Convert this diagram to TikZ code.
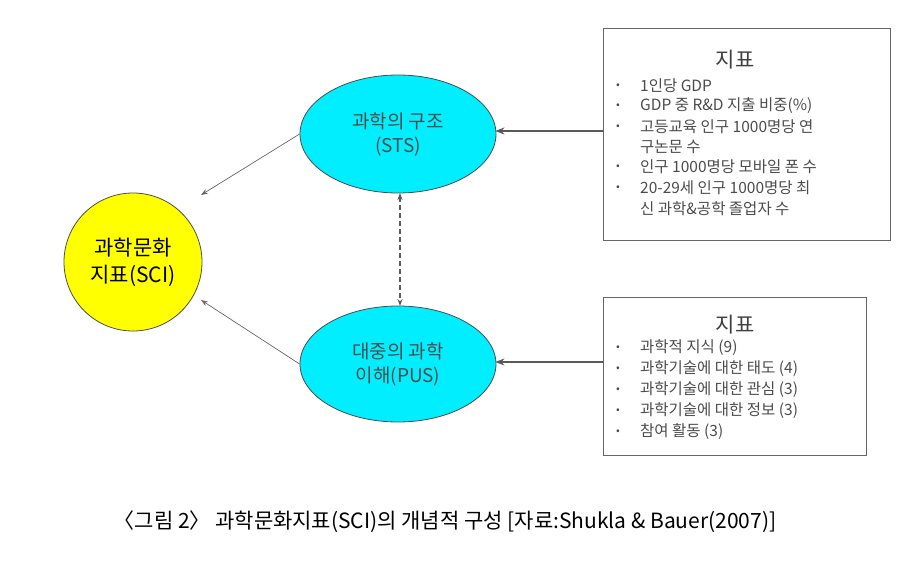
\documentclass[tikz,border=0pt]{standalone}
\usepackage{fontspec}
\setmainfont{Noto Sans CJK KR}
\usetikzlibrary{arrows.meta,shapes.geometric}
\definecolor{cy}{RGB}{0,238,255}
\definecolor{ye}{RGB}{255,255,0}
\begin{document}
\begin{tikzpicture}[x=1pt,y=-1pt,
  ell/.style={draw=black!70,line width=0.8pt,fill=cy,ellipse,minimum width=196pt,minimum height=118pt,align=center,text=black!70,font=\fontsize{19}{24}\selectfont},
  box/.style={draw=black!60,line width=0.6pt,fill=white},
  itm/.style={anchor=west,text=black!70,font=\fontsize{15.5}{18}\selectfont,inner sep=0},
  bul/.style={anchor=center,text=black!70,font=\fontsize{11}{12}\selectfont,inner sep=0},
  ttl/.style={text=black!75,font=\fontsize{21}{24}\selectfont},
  thin/.style={-{Stealth[length=7pt,width=5pt]},black!60,line width=0.7pt},
  thick/.style={-{Stealth[length=9pt,width=7pt]},black!65,line width=2.6pt}]
\useasboundingbox (0,0) rectangle (900,586);
\node[draw=black!70,line width=0.8pt,fill=ye,circle,minimum size=138pt,align=center,font=\fontsize{21}{27}\selectfont] (sci) at (133,262) {과학문화\\지표(SCI)};
\node[ell] (sts) at (398,134) {과학의 구조\\(STS)};
\node[ell,minimum height=116pt] (pus) at (398,364) {대중의 과학\\이해(PUS)};
\draw[box] (603,28) rectangle (890,240);
\coordinate (b1) at (603,131);
\node[ttl] (t1) at (735,60) {지표};
\foreach \y/\t in {86/1인당 GDP,106/GDP 중 R\&D 지출 비중(\%),127/고등교육 인구 1000명당 연,167/인구 1000명당 모바일 폰 수,188/20-29세 인구 1000명당 최}{
  \node[bul] at (618,\y) {•}; \node[itm] at (640,\y) {\t};}
\node[itm] (c1) at (640,147) {구논문 수};
\node[itm] (c2) at (640,209) {신 과학\&공학 졸업자 수};
\draw[box] (603,297) rectangle (866,455);
\coordinate (b2) at (603,362);
\node[ttl] (t2) at (735,325) {지표};
\foreach \y/\t in {348/과학적 지식 (9),369/과학기술에 대한 태도 (4),390/과학기술에 대한 관심 (3),411/과학기술에 대한 정보 (3),432/참여 활동 (3)}{
  \node[bul] at (618,\y) {•}; \node[itm] at (640,\y) {\t};}
\draw[thick,shorten >=-1pt] (b1) -- (sts.east |- b1);
\draw[thick,shorten >=-1pt] (b2) -- (pus.east |- b2);
\draw[thin] (sts.west) -- (201,195);
\draw[thin] (pus.west) -- (201,300);
\draw[{Stealth[length=7pt,width=5pt]}-{Stealth[length=7pt,width=5pt]},black!65,line width=1.2pt,dash pattern=on 5pt off 3pt] (400,193) -- (400,306);
\node[font=\fontsize{21}{24}\selectfont] (cap) at (445,522) {〈그림 2〉 과학문화지표(SCI)의 개념적 구성 [자료:Shukla \& Bauer(2007)]};
\end{tikzpicture}
\end{document}
